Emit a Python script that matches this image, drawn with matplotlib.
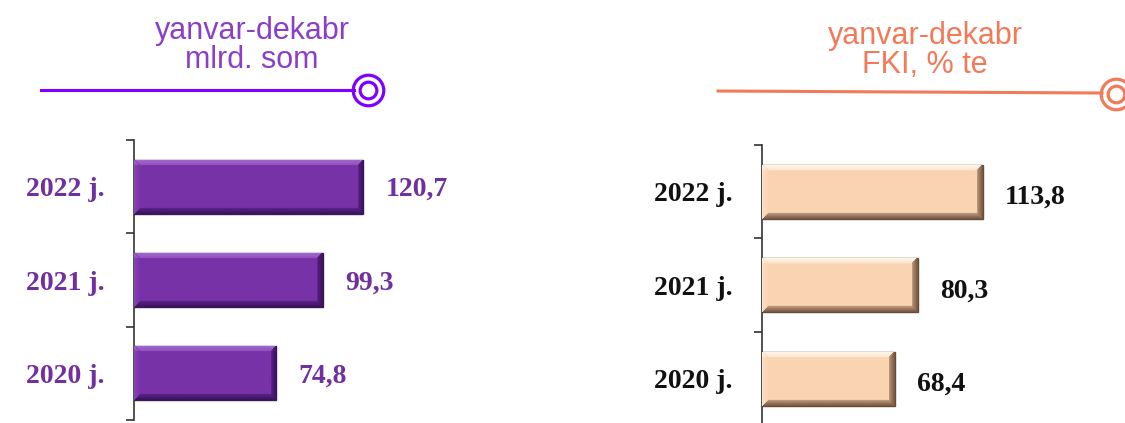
import numpy as np
import matplotlib
matplotlib.use("Agg")
import matplotlib.pyplot as plt
from matplotlib.colors import to_rgb

# data
years = ["2020 j.", "2021 j.", "2022 j."]
value_som = [74.8, 99.3, 120.7]
value_fki = [68.4, 80.3, 113.8]
label_som = ["74,8", "99,3", "120,7"]
label_fki = ["68,4", "80,3", "113,8"]

title_som = ["yanvar-dekabr", "mlrd. som"]
title_fki = ["yanvar-dekabr", "FKI, % te"]

W, H = 1125, 423
fig = plt.figure(figsize=(W / 100, H / 100), dpi=100)

SERIF = "Liberation Serif"
SANS = "Liberation Sans"


def bevel_image(value, base, light, dark, bw=6, ny=54):
    """Build a small RGB picture that looks like a bevelled bar."""
    nx = max(int(value * 2), 20)
    base, light, dark = np.array(to_rgb(base)), np.array(to_rgb(light)), np.array(to_rgb(dark))
    img = np.tile(base, (ny, nx, 1))
    for i in range(bw):
        t = 1 - i / bw
        img[i, :nx - i] = base + (light - base) * (0.5 + 0.5 * t)
        img[ny - 1 - i, i:nx - i] = base + (dark - base) * (0.4 + 0.6 * t)
        img[i:ny - i, nx - 1 - i] = base + (dark - base) * (0.5 + 0.5 * t)
        img[i:ny - i, i] = base + (light - base) * 0.3 * t
    return img


def draw_panel(ax, values, labels, base, light, dark, edge, txtcolor, xmax, spine_col, dy):
    ypos = np.arange(len(values))
    h = 0.58
    bars = ax.barh(ypos, values, height=h, color=base, edgecolor=edge, linewidth=1.0, zorder=2)
    for b, v, y in zip(bars, values, ypos):
        im = ax.imshow(bevel_image(v, base, light, dark), extent=(0, v, y - h / 2, y + h / 2),
                       aspect="auto", interpolation="bilinear", zorder=3)
        im.set_clip_path(b)
    for v, y, lab in zip(values, ypos, labels):
        ax.annotate(lab, (v, y), xytext=(16, dy), textcoords="offset points",
                    ha="left", va="center", fontsize=20, fontweight="bold",
                    family=SERIF, color=txtcolor)
    ax.set_xlim(0, xmax)
    ax.set_ylim(-0.5, len(values) - 0.5)
    ax.set_yticks(ypos)
    ax.set_yticklabels(years, fontsize=20, fontweight="bold", family=SERIF, color=txtcolor)
    ax.set_yticks(np.arange(len(values) + 1) - 0.5, minor=True)
    ax.tick_params(axis="y", which="major", length=0, pad=21)
    ax.tick_params(axis="y", which="minor", length=6, width=1.2, color=spine_col, direction="out")
    ax.set_xticks([])
    for s in ["top", "right", "bottom"]:
        ax.spines[s].set_visible(False)
    ax.spines["left"].set_color(spine_col)
    ax.spines["left"].set_linewidth(1.2)
    ax.patch.set_alpha(0)


# left panel
ax1 = fig.add_axes([134 / W, 3 / H, 300 / W, 280 / H])
draw_panel(ax1, value_som, label_som, "#7832A8", "#A46BD0", "#3A1260", "#3A1A50",
           "#7030A0", 300 / 1.9, "#333333", -2)

# right panel
ax2 = fig.add_axes([762 / W, -2.5 / H, 300 / W, 280.5 / H])
draw_panel(ax2, value_fki, label_fki, "#FAD4B2", "#FFF6EC", "#7A5A44", "#6A4A36",
           "#111111", 300 / 1.94, "#333333", -4)

# header decorations
ov = fig.add_axes([0, 0, 1, 1], zorder=-1)
ov.set_xlim(0, W)
ov.set_ylim(H, 0)
ov.axis("off")

col_l, line_l = "#8B3FC8", "#8000FF"
ov.text(252, 31, title_som[0], ha="center", va="center", fontsize=22, family=SANS, color=col_l)
ov.text(252, 60, title_som[1], ha="center", va="center", fontsize=22, family=SANS, color=col_l)
ov.plot([41, 354], [90, 90], color=line_l, lw=2.2)
ov.plot([368], [90], "o", ms=22, mfc="none", mec=line_l, mew=2.3)
ov.plot([368], [90], "o", ms=12, mfc="none", mec=line_l, mew=2.3)

col_r = "#F27A58"
ov.text(925, 36, title_fki[0], ha="center", va="center", fontsize=22, family=SANS, color=col_r)
ov.text(925, 65, title_fki[1], ha="center", va="center", fontsize=22, family=SANS, color=col_r)
ov.plot([718, 1102], [91, 93], color=col_r, lw=2.2)
ov.plot([1116], [94], "o", ms=22, mfc="none", mec=col_r, mew=2.3, clip_on=False)
ov.plot([1116], [94], "o", ms=12, mfc="none", mec=col_r, mew=2.3, clip_on=False)

fig.savefig("out.png", dpi=100)
